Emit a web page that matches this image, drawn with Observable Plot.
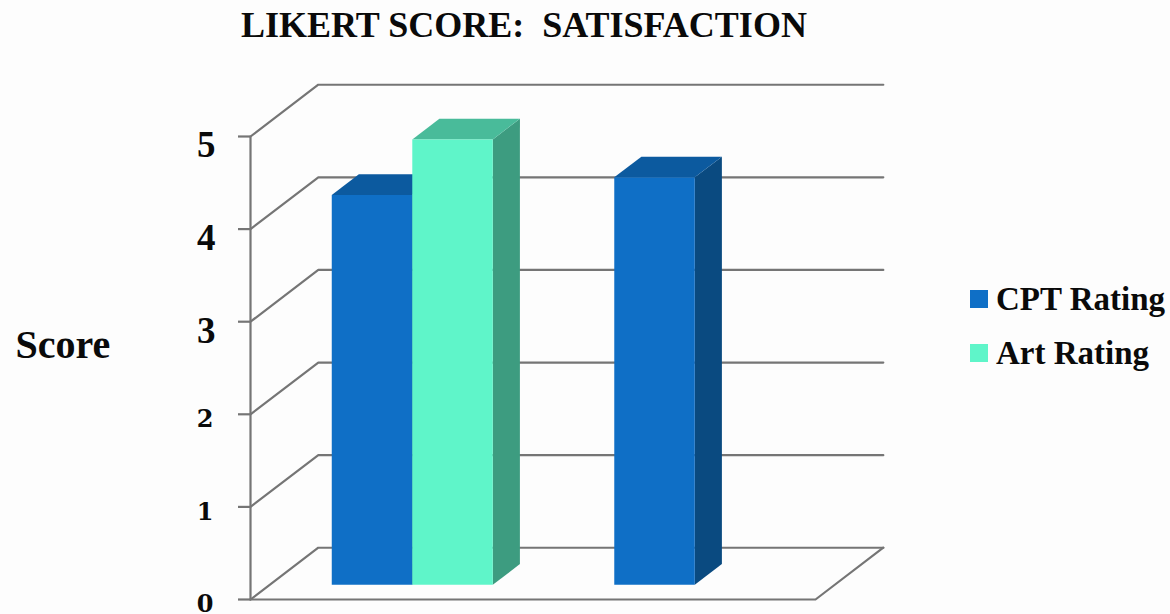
<!DOCTYPE html>
<html>
<head>
<meta charset="utf-8">
<script src="https://cdn.jsdelivr.net/npm/d3@7"></script>
<script src="https://cdn.jsdelivr.net/npm/@observablehq/plot@0.6"></script>
<style>
  html, body { margin: 0; padding: 0; background: #fdfdfd; }
  #chart { position: relative; width: 1170px; height: 614px; overflow: hidden; font-family: "Liberation Serif", serif; font-weight: bold; color: #0a0a0a; }
  #title { position: absolute; left: 241px; top: 1px; font-size: 36px; line-height: 48px; white-space: pre; }
  .entry { position: absolute; left: 970px; display: flex; align-items: center; font-size: 33px; line-height: 36px; white-space: nowrap; }
  .swatch { width: 18px; height: 18px; margin-right: 8px; }
</style>
</head>
<body>
<div id="chart">
  <div id="title">LIKERT SCORE:  SATISFACTION</div>
</div>
<script>
const categories = [0, 1];
const cptRating = [4.21, 4.4];
const artRating = [4.81, null];
const scoreTicks = [0, 1, 2, 3, 4, 5];
const lowTicks = [0, 1, 2];
const highTicks = [3, 4, 5];

// Oblique projection: depth 0 is the front edge of the floor, depth 1 the back wall.
const depthX = 0.24, depthY = 0.559;
const project = (u, v, d) => ({x: u + d * depthX, y: v + d * depthY});

// Where the bars stand inside a category band, and how deep they are.
const barStart = 0.2195, barWidth = 0.285, barFront = 0.284, barDepth = 0.4;

const series = [
  {name: "CPT Rating", values: cptRating, slot: 0, front: "#0f6fc6", top: "#0c5a9f", side: "#0a4a80"},
  {name: "Art Rating", values: artRating, slot: 1, front: "#5ff5c9", top: "#49bb9a", side: "#3d9c80"}
];

const poly = (points, fill) =>
  Plot.line(points, {x: "x", y: "y", fill, stroke: "none", curve: "linear"});
const wire = (points) =>
  Plot.line(points, {x: "x", y: "y", stroke: "#757575", strokeWidth: 2.2, curve: "linear"});

// Box faces for one bar, side and top first so the front sits over them.
function barFaces(category, s) {
  const v = s.values[category];
  if (v == null) return [];
  const x0 = category + barStart + s.slot * barWidth;
  const x1 = x0 + barWidth;
  const near = barFront, far = barFront + barDepth;
  return [
    poly([project(x1, 0, near), project(x1, 0, far), project(x1, v, far), project(x1, v, near)], s.side),
    poly([project(x0, v, near), project(x1, v, near), project(x1, v, far), project(x0, v, far)], s.top),
    poly([project(x0, 0, near), project(x1, 0, near), project(x1, v, near), project(x0, v, near)], s.front)
  ];
}

const wallLines = scoreTicks.flatMap((t) => [
  wire([project(0, t, 0), project(0, t, 1), project(2, t, 1)])
]);

const plot = Plot.plot({
  width: 1170,
  height: 614,
  marginLeft: 250,
  marginRight: 355,
  marginTop: 136,
  marginBottom: 15,
  style: {background: "transparent", overflow: "visible"},
  x: {domain: [0, 2], axis: null},
  y: {domain: [0, 5], axis: null},
  marks: [
    ...wallLines,
    wire([project(0, 0, 0), project(2, 0, 0), project(2, 0, 1)]),
    wire([project(0, 0, 0), project(0, 5, 0)]),
    Plot.axisY(scoreTicks, {
      anchor: "left", tickSize: 12, stroke: "#757575", strokeWidth: 2.2,
      tickFormat: () => "", label: null
    }),
    ...categories.flatMap((c) => series.flatMap((s) => barFaces(c, s))),
    Plot.axisY(highTicks, {
      anchor: "left", tickSize: 0, tickPadding: 35, dy: 9, label: null, tickFormat: "d",
      fontFamily: "Liberation Serif", fontWeight: "bold", fontSize: 37, fill: "#0a0a0a"
    }),
    Plot.axisY(lowTicks, {
      anchor: "left", tickSize: 0, tickPadding: 37, dy: 5, label: null, tickFormat: "d",
      fontFamily: "DejaVu Serif", fontWeight: "bold", fontSize: 24, fill: "#0a0a0a"
    }),
    Plot.text(["Score"], {
      frameAnchor: "left", dx: -235, dy: -23, textAnchor: "start",
      fontFamily: "Liberation Serif", fontWeight: "bold", fontSize: 40, fill: "#0a0a0a"
    })
  ]
});

const chart = document.getElementById("chart");
chart.appendChild(plot);

// Legend entries beside the plot.
series.forEach((s, i) => {
  const entry = document.createElement("div");
  entry.className = "entry";
  entry.style.top = (281 + i * 54) + "px";
  const swatch = document.createElement("span");
  swatch.className = "swatch";
  swatch.style.background = s.front;
  entry.appendChild(swatch);
  entry.appendChild(document.createTextNode(s.name));
  chart.appendChild(entry);
});
</script>
</body>
</html>
